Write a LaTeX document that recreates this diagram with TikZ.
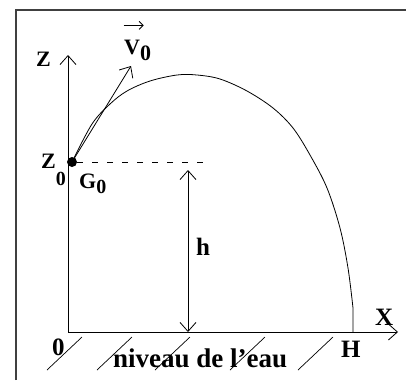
\documentclass[tikz,border=0pt]{standalone}
\usepackage{fontspec}
\setmainfont{Liberation Serif}
\usetikzlibrary{arrows.meta}
\begin{document}
\begin{tikzpicture}[x=1pt,y=-1pt,
  barb/.tip={Straight Barb[length=9pt,width=16pt,line width=0.8pt]},
  smallbarb/.tip={Straight Barb[length=4pt,width=8pt,line width=0.8pt]},
  thin line/.style={line width=0.8pt,black},
  axisline/.style={thin line,-barb},
  dimline/.style={thin line,barb-barb},
  frameline/.style={line width=1.8pt,black!75},
  hatchline/.style={line width=0.7pt,black},
  dashline/.style={thin line,dash pattern=on 6pt off 9pt},
  lab/.style={inner sep=0pt,anchor=base west,font=\bfseries\fontsize{22}{24}\selectfont},
  biglab/.style={lab,font=\bfseries\fontsize{25}{27}\selectfont}]
\useasboundingbox (0,0) rectangle (406,380);
% frame
\coordinate (F1) at (16,380);
\coordinate (F2) at (16,10);
\coordinate (F3) at (406,10);
\draw[frameline] (F1) -- (F2) -- (F3);
% key points
\coordinate (O) at (68,332);
\coordinate (Ztip) at (68,55);
\coordinate (Xtip) at (398,332);
\coordinate (G) at (72,162);
\coordinate (Vtip) at (131,66);
\coordinate (H) at (353,332);
\coordinate (dashstart) at (77,162);
\coordinate (dashend) at (207,162);
\coordinate (htop) at (188,170);
\coordinate (hbot) at (188,332);
% axes
\draw[axisline] (O) -- (Ztip);
\draw[axisline] (O) -- (Xtip);
% hatches (water level)
\foreach \a in {47,97,155,230,298} \draw[hatchline] (\a,370) -- ++(35,-33);
% dashed level line
\draw[dashline] (dashstart) -- (dashend);
% height arrow
\draw[dimline] (htop) -- (hbot);
% trajectory
\draw[thin line] plot[smooth,tension=0.55] coordinates {(72,162) (92,124) (110,104) (127,91) (150,81) (177,75) (197,75) (220,79) (247,91) (273,108) (293,128) (310,155) (327,188) (340,228) (348,268) (353,308)} -- (H);
% initial velocity
\draw[thin line,-barb] (G) -- (Vtip);
\fill (G) circle (5pt);
% labels
\node[lab] (Zlab) at (36,66) {Z};
\node[lab] (Vlab) at (124,54) {V\raisebox{-6pt}{0}};
\draw[thin line,-smallbarb] ([xshift=-14pt,yshift=14pt]Vlab.north) -- ([xshift=6pt,yshift=14pt]Vlab.north);
\node[lab] (Z0lab) at (41,168) {Z\raisebox{-17pt}{\fontsize{20}{22}\selectfont 0}};
\node[lab] (G0lab) at (79,188) {G\raisebox{-5pt}{\fontsize{20}{22}\selectfont 0}};
\node[biglab] (hlab) at (196,255) {h};
\node[biglab] (Olab) at (52,355) {0};
\node[lab,font=\bfseries\fontsize{27}{29}\selectfont] (eau) at (113,367) {niveau de l'eau};
\node[biglab] (Hlab) at (341,357) {H};
\node[biglab] (Xlab) at (375,325) {X};
\end{tikzpicture}
\end{document}
